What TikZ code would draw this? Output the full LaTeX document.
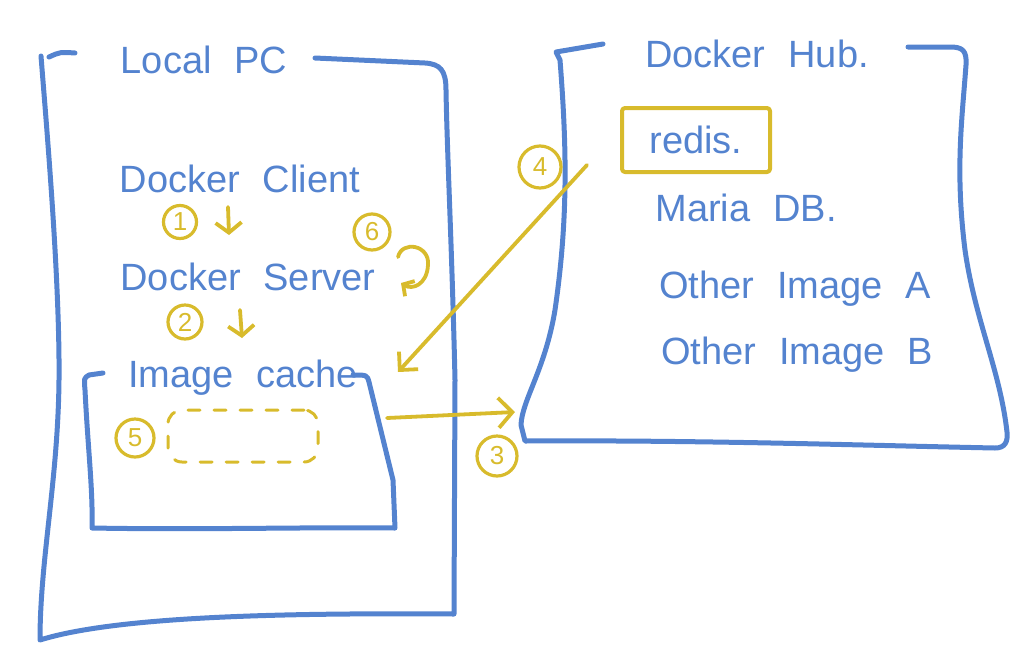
\documentclass[tikz,border=0pt]{standalone}
\usepackage{fontspec}
\setmainfont{Liberation Sans}
\usetikzlibrary{arrows.meta}

\definecolor{penblue}{RGB}{84,131,207}
\definecolor{penyel}{RGB}{216,187,44}
\newcommand\handfont{\fontsize{38}{44}\selectfont\spaceskip=0.6em\relax}

\begin{document}
\begin{tikzpicture}[x=1pt,y=-1pt,line cap=round,line join=round,
  boxline/.style={draw=penblue,line width=5pt},
  hlline/.style={draw=penyel,line width=3.8pt},
  hand/.style={text=penblue,inner sep=0pt,anchor=base,font=\handfont},
  circnum/.style={circle,draw=penyel,line width=3.2pt,text=penyel,
    inner sep=0pt,minimum size=36pt,font=\fontsize{26}{28}\selectfont},
  barb/.style={-{Straight Barb[length=10pt,width=26pt]}}]

\useasboundingbox (0,0) rectangle (1028,665);

% Define coordinates
\coordinate (ara) at (228,207);   %arrow 1
\coordinate (arb) at (229,235);
\coordinate (aca) at (240,310);   %arrow 2
\coordinate (acb) at (242,338);
\coordinate (cra) at (398,257);   %loop at the server
\coordinate (crb) at (401,283);
\coordinate (dga) at (587,165);   %pull from the hub
\coordinate (dgb) at (398,372);
\coordinate (hza) at (387,418);   %push to the hub
\coordinate (hzb) at (515,412);

% LOCAL PC frame
\draw[boxline] (49,57) .. controls (60,52) .. (75,53);
\draw[boxline] (41,56) .. controls (46,120) and (60,280) .. (59,380)
  .. controls (58,480) and (40,560) .. (40,640)
  .. controls (120,615) and (300,613) .. (454,614)
  -- (455,380) .. controls (452,250) and (447,150) .. (446,90)
  .. controls (446,70) and (440,64) .. (425,63) -- (315,58);

% DOCKER HUB frame
\draw[boxline] (603,44) -- (556,52) -- (560,60)
  .. controls (567,150) and (568,220) .. (555,310)
  .. controls (545,370) and (522,400) .. (521,425) -- (525,441)
  .. controls (700,440) and (850,445) .. (995,448)
  .. controls (1005,448) and (1008,442) .. (1007,432)
  .. controls (1000,370) and (975,320) .. (965,250)
  .. controls (955,170) and (962,120) .. (966,65)
  .. controls (967,50) and (962,47) .. (950,47) -- (908,47);

% IMAGE CACHE frame
\draw[boxline] (103,373) -- (89,375) .. controls (84,378) .. (85,390)
  .. controls (88,450) and (93,490) .. (92,528)
  .. controls (200,530) and (300,527) .. (395,528)
  -- (393,480) -- (369,382) .. controls (367,375) .. (353,375);

% Texts
\node[hand] (localpc) at (204,73) {Local PC};
\node[hand] (dockerhub) at (757,67) {Docker Hub.};
\node[hand] (client) at (240,192) {Docker Client};
\node[hand] (server) at (248,290) {Docker Server};
\node[hand] (cache) at (243,387) {Image cache};
\node[hand,draw=penyel,line width=4pt,rounded corners=3pt,
  minimum width=148pt,minimum height=64pt,anchor=center] (redis) at (696,140) {redis.};
\node[hand] (mariadb) at (746,221) {Maria DB.};
\node[hand] (imga) at (795,298) {Other Image A};
\node[hand] (imgb) at (797,364) {Other Image B};

% Steps
\node[circnum,minimum size=33pt] (nr1) at (180,222) {1};
\node[circnum,minimum size=34pt] (nr2) at (185,322) {2};
\node[circnum,minimum size=40pt] (nr3) at (497,456) {3};
\node[circnum,minimum size=42pt] (nr4) at (540,167) {4};
\node[circnum,minimum size=38pt] (nr5) at (135,438) {5};
\node[circnum] (nr6) at (372,232) {6};

%empty slot in the cache
\node[hlline,line width=3pt,dash pattern=on 12pt off 14pt,rounded corners=14pt,
  minimum width=150pt,minimum height=52pt] (slot) at (243,436) {};

% Arrows
\draw[hlline,barb] (ara) -- (arb);
\draw[hlline,barb] (aca) -- (acb);
\draw[hlline,-{Straight Barb[length=8pt,width=18pt]}] (cra)
  .. controls (402,240) and (430,245) .. (428,265)
  .. controls (427,285) and (412,290) .. (crb);
\draw[hlline,-{Straight Barb[length=13pt,width=26pt]}] (dga) -- (dgb);
\draw[hlline,-{Straight Barb[length=14pt,width=30pt]}] (hza) -- (hzb);

\end{tikzpicture}
\end{document}
